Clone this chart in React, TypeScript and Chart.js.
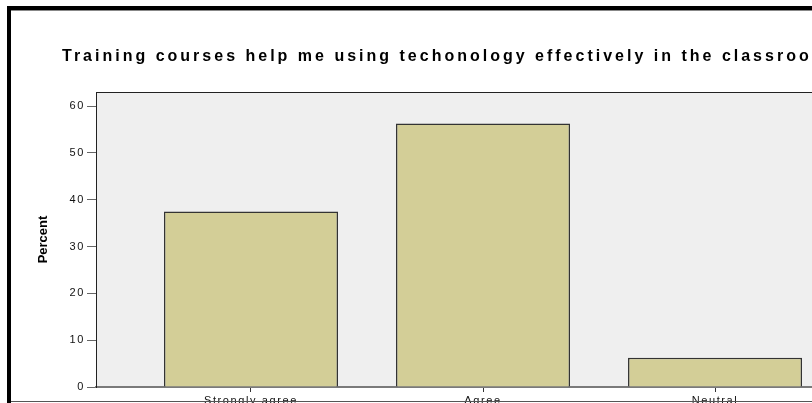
import React, { useEffect, useRef } from 'react';
import { Chart, registerables } from 'chart.js';

Chart.register(...registerables);

// ---- data ----
const chartTitle = 'Training courses help me using techonology effectively in the classroom';
const yAxisTitle = 'Percent';
const categories = ['Strongly agree', 'Agree', 'Neutral'];
const percentValues = [37.5, 56.25, 6.25];
const yTickValues = [0, 10, 20, 30, 40, 50, 60];
const yMax = 63;
const xMin = 0.332;
const xMax = 4.142;

const BAR_FILL = '#d3ce97';

const framePlugin = {
  id: 'spssFrame',
  beforeDraw(chart: any) {
    const { ctx, chartArea: a } = chart;
    ctx.save();
    ctx.fillStyle = '#efefef';
    ctx.fillRect(a.left, a.top, a.right - a.left, a.bottom - a.top);
    ctx.strokeStyle = '#222';
    ctx.lineWidth = 1;
    ctx.beginPath();
    ctx.moveTo(a.left, a.top + 0.5);
    ctx.lineTo(a.right, a.top + 0.5);
    ctx.stroke();
    ctx.restore();
    ctx.letterSpacing = '1.6px';
  },
  afterDraw(chart: any) {
    const { ctx, chartArea: a } = chart;
    ctx.save();
    ctx.letterSpacing = '3px';
    ctx.fillStyle = '#000';
    ctx.font = 'bold 16px "Liberation Sans", Arial, sans-serif';
    ctx.textAlign = 'left';
    ctx.textBaseline = 'alphabetic';
    ctx.fillText(chartTitle, a.left - 34, a.top - 31);
    ctx.letterSpacing = '0px';
    ctx.translate(a.left - 49, (a.top + a.bottom) / 2);
    ctx.rotate(-Math.PI / 2);
    ctx.font = 'bold 13px "Liberation Sans", Arial, sans-serif';
    ctx.textAlign = 'center';
    ctx.fillText(yAxisTitle, 0, 0);
    ctx.restore();
    ctx.letterSpacing = '0px';
  },
};

export default function App() {
  const ref = useRef<HTMLCanvasElement | null>(null);

  useEffect(() => {
    document.body.style.margin = '0';
    const canvas = ref.current;
    if (!canvas) return;
    const tickFont = { family: '"Liberation Sans", Arial, sans-serif', size: 11 };
    const chart = new Chart(canvas, {
      type: 'bar',
      data: {
        datasets: [
          {
            data: percentValues.map((y, i) => ({ x: i + 1, y })),
            backgroundColor: BAR_FILL,
            borderColor: '#333',
            borderWidth: 1.5,
            barPercentage: 0.75,
            categoryPercentage: 1,
          },
        ],
      },
      options: {
        responsive: false,
        animation: false,
        devicePixelRatio: 1,
        layout: { padding: { left: 31, top: 92, right: 20, bottom: 0 } },
        plugins: {
          legend: { display: false },
          tooltip: { enabled: false },
          title: { display: false },
        },
        scales: {
          x: {
            type: 'linear',
            min: xMin,
            max: xMax,
            offset: false,
            z: 1,
            afterBuildTicks: (scale: any) => {
              scale.ticks = categories.map((_, i) => ({ value: i + 1 }));
            },
            afterFit: (scale: any) => {
              scale.height = 43;
            },
            ticks: {
              autoSkip: false,
              maxRotation: 0,
              padding: 2,
              color: '#111',
              font: tickFont,
              callback: (v: any) => categories[Math.round(v) - 1] ?? '',
            },
            grid: {
              offset: false,
              drawOnChartArea: false,
              drawTicks: true,
              tickLength: 5,
              color: '#333',
            },
            border: { display: true, color: '#7a7a7a', width: 2 },
          },
          y: {
            type: 'linear',
            min: 0,
            max: yMax,
            afterBuildTicks: (scale: any) => {
              scale.ticks = yTickValues.map((v) => ({ value: v }));
            },
            afterFit: (scale: any) => {
              scale.width = 65;
            },
            ticks: {
              padding: 2,
              color: '#111',
              font: tickFont,
            },
            grid: {
              drawOnChartArea: false,
              drawTicks: true,
              tickLength: 9,
              color: '#666',
            },
            border: { display: true, color: '#222', width: 1 },
          },
        },
      },
      plugins: [framePlugin],
    } as any);
    return () => chart.destroy();
  }, []);

  return (
    <div style={{ position: 'relative', width: 812, height: 403, overflow: 'hidden', background: '#fff' }}>
      <canvas ref={ref} width={1000} height={430} style={{ position: 'absolute', left: 0, top: 0, display: 'block' }} />
      <div style={{ position: 'absolute', left: 7, top: 6, width: 805, height: 4, background: '#000' }} />
      <div style={{ position: 'absolute', left: 11, top: 10, width: 801, height: 1, background: '#888' }} />
      <div style={{ position: 'absolute', left: 7, top: 6, width: 4, height: 397, background: '#000' }} />
      <div style={{ position: 'absolute', left: 11, top: 401, width: 801, height: 1, background: '#555' }} />
    </div>
  );
}
